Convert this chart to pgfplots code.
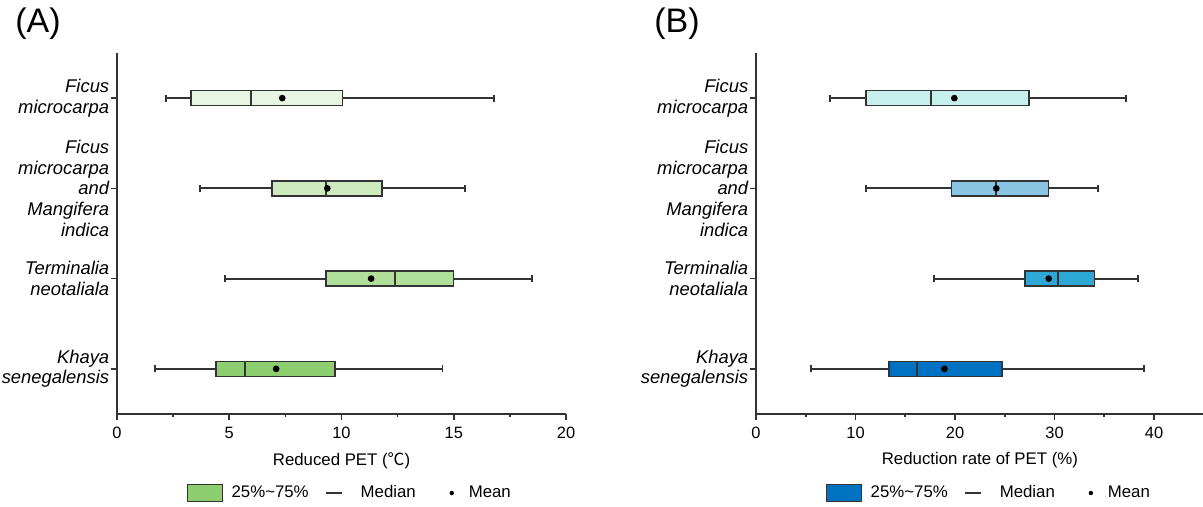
\documentclass[border=0pt]{standalone}
\usepackage{fontspec}
\setmainfont{Liberation Sans}
\newfontfamily\cjk{Noto Sans CJK SC}
\usepackage{pgfplots}
\pgfplotsset{compat=1.18}
\usepgfplotslibrary{statistics}

\definecolor{gA1}{HTML}{E8F5E2}
\definecolor{gA2}{HTML}{CDEBBF}
\definecolor{gA3}{HTML}{B0DF9A}
\definecolor{gA4}{HTML}{8DCF70}
\definecolor{bB1}{HTML}{C7EFEB}
\definecolor{bB2}{HTML}{8AC6E3}
\definecolor{bB3}{HTML}{2DA8D5}
\definecolor{bB4}{HTML}{0072C1}
\definecolor{axgray}{HTML}{333333}

\pgfplotsset{
  panel/.style={
    scale only axis,
    height=180.5pt,
    axis x line*=bottom,
    axis y line*=left,
    axis line style={axgray, line width=0.9pt},
    tick style={axgray, line width=0.8pt},
    tick align=outside,
    major tick length=3pt,
    minor tick length=1.6pt,
    minor x tick num=1,
    ymin=0.5, ymax=4.5,
    ytick={1,2,3,4},
    yticklabels={{Khaya\\senegalensis},{Terminalia\\neotaliala},{Ficus\\microcarpa\\and\\Mangifera\\indica},{Ficus\\microcarpa}},
    yticklabel style={align=right, font=\fontsize{9.2}{10.35}\selectfont\itshape, inner sep=0pt, xshift=-0.7pt},
    xticklabel style={font=\fontsize{8.2}{9}\selectfont},
    /pgf/number format/assume math mode=true,
    xlabel style={font=\fontsize{8.4}{10}\selectfont},
    legend style={draw=none, fill=none, legend columns=3,
      font=\fontsize{8.4}{10}\selectfont,
      /tikz/every even column/.append style={column sep=3pt},
      nodes={inner xsep=2pt}},
    boxplot/draw direction=x,
    boxplot/every whisker/.style={line width=0.95pt},
    boxplot/every median/.style={line width=0.85pt},
    boxplot/draw/average/.code={%
      \fill[black] (boxplot box cs:\pgfplotsboxplotvalue{average},0.5) circle[radius=1.25pt];},
  },
  bx/.style={fill=#1, draw=axgray, line width=0.8pt, forget plot},
  boxkey/.style={legend image code/.code={%
    \draw[fill=#1, draw=axgray, line width=0.6pt] (0pt,-4.25pt) rectangle (17.5pt,4.25pt);
    \path[draw=none, fill=none] (0,0) -- (20pt,0);}},
  medkey/.style={legend image code/.code={%
    \draw[axgray, line width=0.6pt] (3.5pt,0pt) -- (11.5pt,0pt);
    \path[draw=none] (0,0) -- (19pt,0);}},
  meankey/.style={legend image code/.code={%
    \fill[black, draw=none] (13pt,0pt) circle[radius=1.1pt];
    \path[draw=none, fill=none] (0,0) -- (19.5pt,0);}},
}

\begin{document}
\begin{tikzpicture}
\useasboundingbox (0,0) rectangle (601.5pt,253.5pt);

\begin{axis}[panel, at={(58.5pt,46.5pt)}, anchor=south west,
  width=224.5pt, xmin=0, xmax=20, xtick={0,5,10,15,20},
  xlabel={Reduced PET ({\cjk ℃})},
  legend style={at={(axis description cs:0.521,-0.219)}, anchor=center}]
\addlegendimage{boxkey=gA4}
\addlegendentry{25\%\string~75\%}
\addlegendimage{medkey}
\addlegendentry{Median}
\addlegendimage{meankey}
\addlegendentry{Mean}
% Ficus microcarpa
\addplot[bx=gA1, boxplot prepared={draw position=4, lower whisker=2.20, lower quartile=3.30,
  median=5.96, upper quartile=10.05, upper whisker=16.80, average=7.36,
  box extend=0.166, whisker extend=0.077}] coordinates {};
% Ficus microcarpa and Mangifera indica
\addplot[bx=gA2, boxplot prepared={draw position=3, lower whisker=3.69, lower quartile=6.90,
  median=9.31, upper quartile=11.81, upper whisker=15.51, average=9.37,
  box extend=0.166, whisker extend=0.077}] coordinates {};
% Terminalia neotaliala
\addplot[bx=gA3, boxplot prepared={draw position=2, lower whisker=4.80, lower quartile=9.31,
  median=12.39, upper quartile=14.99, upper whisker=18.50, average=11.32,
  box extend=0.166, whisker extend=0.077}] coordinates {};
% Khaya senegalensis
\addplot[bx=gA4, boxplot prepared={draw position=1, lower whisker=1.70, lower quartile=4.40,
  median=5.70, upper quartile=9.71, upper whisker=14.50, average=7.09,
  box extend=0.166, whisker extend=0.077}] coordinates {};
\end{axis}

\begin{axis}[panel, at={(378pt,46.5pt)}, anchor=south west,
  width=223.9pt, xmin=0, xmax=45, xtick={0,10,20,30,40},
  xlabel={Reduction rate of PET (\%)},
  legend style={at={(axis description cs:0.5226,-0.219)}, anchor=center}]
\addlegendimage{boxkey=bB4}
\addlegendentry{25\%\string~75\%}
\addlegendimage{medkey}
\addlegendentry{Median}
\addlegendimage{meankey}
\addlegendentry{Mean}
\addplot[bx=bB1, boxplot prepared={draw position=4, lower whisker=7.44, lower quartile=11.06,
  median=17.62, upper quartile=27.44, upper whisker=37.15, average=19.93,
  box extend=0.166, whisker extend=0.077}] coordinates {};
\addplot[bx=bB2, boxplot prepared={draw position=3, lower whisker=11.02, lower quartile=19.66,
  median=24.12, upper quartile=29.38, upper whisker=34.41, average=24.15,
  box extend=0.166, whisker extend=0.077}] coordinates {};
\addplot[bx=bB3, boxplot prepared={draw position=2, lower whisker=17.89, lower quartile=27.04,
  median=30.35, upper quartile=34.00, upper whisker=38.36, average=29.41,
  box extend=0.166, whisker extend=0.077}] coordinates {};
\addplot[bx=bB4, boxplot prepared={draw position=1, lower whisker=5.49, lower quartile=13.37,
  median=16.18, upper quartile=24.72, upper whisker=39.03, average=18.93,
  box extend=0.166, whisker extend=0.077}] coordinates {};
\end{axis}

\node[font=\fontsize{17}{20}\selectfont] at (19pt,241.5pt) {(A)};
\node[font=\fontsize{17}{20}\selectfont] at (338.5pt,241.5pt) {(B)};
\end{tikzpicture}
\end{document}
